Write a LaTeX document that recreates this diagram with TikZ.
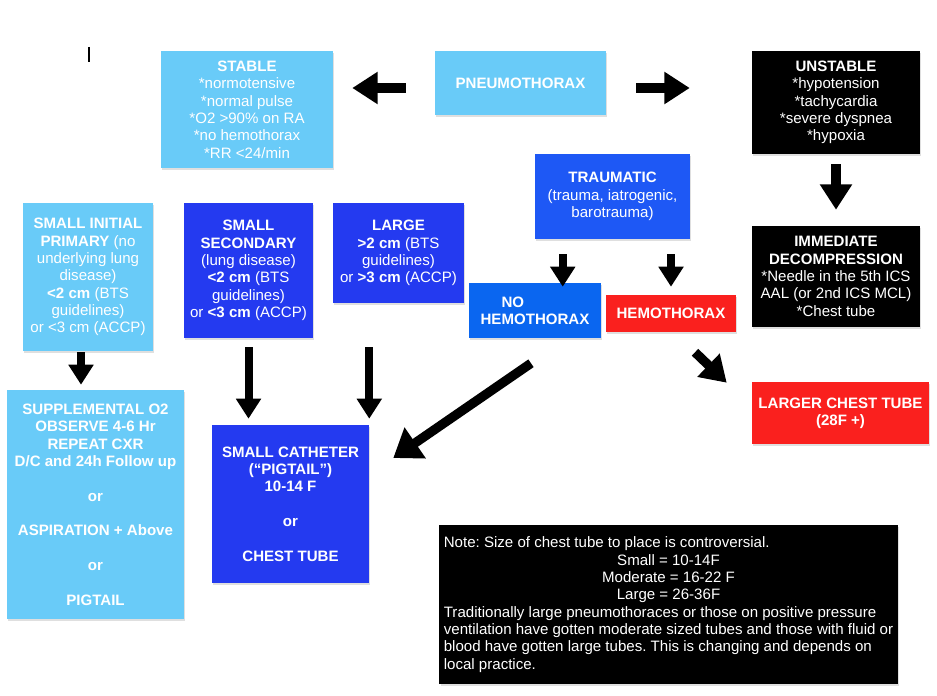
\documentclass[tikz,border=0pt]{standalone}
\usepackage{fontspec}
\setmainfont{Liberation Sans}
\usepackage{tikz}
\usetikzlibrary{calc,arrows.meta,shadows}
\definecolor{skyblue}{RGB}{105,203,248}
\definecolor{traumablue}{RGB}{30,88,245}
\definecolor{midblue}{RGB}{10,102,240}
\definecolor{deepblue}{RGB}{36,58,240}
\definecolor{alertred}{RGB}{250,32,30}
\frenchspacing
\begin{document}
\begin{tikzpicture}[x=0.75pt,y=-0.75pt,
box/.style={rectangle,text=white,align=center,inner sep=2pt,font=\fontsize{11.3}{13}\selectfont,drop shadow={shadow xshift=1pt,shadow yshift=-1.5pt,opacity=0.25}},
bigarrow/.style={line width=7pt,-{Triangle[length=19pt,width=23pt]}},
smallarrow/.style={line width=6pt,-{Triangle[length=15pt,width=18pt]}}]
\useasboundingbox (0,0) rectangle (937,695);
\draw[line width=0.8pt] (89,47) -- (89,62);
\node[box,fill=skyblue,minimum width=128.25pt,minimum height=48pt] (pneu) at (520.5,83) {\textbf{PNEUMOTHORAX}};
\node[box,fill=skyblue,minimum width=129pt,minimum height=87.75pt] (stable) at (247,109.5) {\textbf{STABLE}\\*normotensive\\*normal pulse\\*O2 >90\% on RA\\*no hemothorax\\*RR <24/min};
\node[box,fill=black,minimum width=126pt,minimum height=77.25pt] (unstable) at (836,102.5) {\textbf{UNSTABLE}\\*hypotension\\*tachycardia\\*severe dyspnea\\*hypoxia};
\node[box,fill=black,minimum width=126pt,minimum height=75.75pt] (decomp) at (836,276.5) {\textbf{IMMEDIATE}\\\textbf{DECOMPRESSION}\\*Needle in the 5th ICS\\AAL (or 2nd ICS MCL)\\*Chest tube};
\node[box,fill=traumablue,minimum width=116.25pt,minimum height=63.75pt] (trauma) at (612.5,196.5) {\textbf{TRAUMATIC}\\(trauma, iatrogenic,\\barotrauma)};
\node[box,fill=midblue,align=left,minimum width=99pt,minimum height=41.25pt] (nohemo) at (535,310.5) {\textbf{\hspace*{15.75pt}NO}\\\textbf{HEMOTHORAX}};
\node[box,fill=alertred,minimum width=97.5pt,minimum height=27.75pt] (hemo) at (671,313.5) {\textbf{HEMOTHORAX}};
\node[box,fill=alertred,minimum width=132.75pt,minimum height=46.5pt] (larger) at (840.5,413) {\textbf{LARGER CHEST TUBE}\\\textbf{(28F +)}};
\node[box,fill=skyblue,minimum width=97.5pt,minimum height=111pt] (primary) at (88,277) {\textbf{SMALL INITIAL}\\\textbf{PRIMARY} (no\\underlying lung\\disease)\\\textbf{<2 cm} (BTS\\guidelines)\\or <3 cm (ACCP)};
\node[box,fill=deepblue,minimum width=96.75pt,minimum height=101.25pt] (secondary) at (248.5,270.5) {\textbf{SMALL}\\\textbf{SECONDARY}\\(lung disease)\\\textbf{<2 cm} (BTS\\guidelines)\\or \textbf{<3 cm} (ACCP)};
\node[box,fill=deepblue,minimum width=98.25pt,minimum height=75pt] (large) at (398.5,253) {\textbf{LARGE}\\\textbf{>2 cm} (BTS\\guidelines)\\or \textbf{>3 cm} (ACCP)};
\node[box,fill=skyblue,font=\fontsize{11.3}{13}\selectfont\bfseries,minimum width=132.75pt,minimum height=171.75pt] (suppl) at (95.5,504.5) {SUPPLEMENTAL O2\\OBSERVE 4-6 Hr\\REPEAT CXR\\D/C and 24h Follow up\\[13pt]or\\[13pt]ASPIRATION + Above\\[13pt]or\\[13pt]PIGTAIL};
\node[box,fill=deepblue,font=\fontsize{11.3}{13}\selectfont\bfseries,minimum width=117.75pt,minimum height=118.5pt] (catheter) at (290.5,504) {SMALL CATHETER\\(“PIGTAIL”)\\10-14 F\\[13pt]or\\[13pt]CHEST TUBE};
\node[box,fill=black,align=flush left,text width=337pt,inner sep=3.5pt,minimum height=119.25pt] (note) at (668.5,604.5) {Note: Size of chest tube to place is controversial.\par
{\centering Small = 10-14F\\Moderate = 16-22 F\\Large = 26-36F\par}
Traditionally large pneumothoraces or those on positive pressure\\ventilation have gotten moderate sized tubes and those with fluid or\\blood have gotten large tubes. This is changing and depends on\\local practice.};
\draw[bigarrow] ($(pneu.west)+(-29,5)$) -- ($(stable.east|-pneu.west)+(19,5)$);
\draw[bigarrow] ($(pneu.east)+(30,5)$) -- ($(unstable.west|-pneu.east)+(-62,5)$);
\draw[bigarrow] ($(unstable.south)+(0,10)$) -- ($(decomp.north)+(0,-16)$);
\draw[smallarrow] ($(trauma.south west)+(28,15)$) -- ($(trauma.south west|-nohemo.north)+(28,4)$);
\draw[smallarrow] ($(trauma.south-|hemo.north)+(0,15)$) -- ($(hemo.north)+(0,-8)$);
\draw[smallarrow] ($(primary.south)+(-7,1)$) -- ($(primary.south|-suppl.north)+(-7,-5)$);
\draw[smallarrow] ($(secondary.south)+(0,9)$) -- ($(secondary.south|-catheter.north)+(0,-6)$);
\draw[smallarrow] ($(catheter.north east|-secondary.south)+(0,9)$) -- ($(catheter.north east)+(0,-6)$);
\draw[bigarrow,-{Triangle[length=20pt,width=27pt]}] ($(nohemo.south)+(-4,25)$) -- ($(catheter.east)+(24,-46)$);
\draw[bigarrow] ($(hemo.south)+(24,20)$) -- ($(larger.north west)+(-25,1)$);
\end{tikzpicture}
\end{document}
